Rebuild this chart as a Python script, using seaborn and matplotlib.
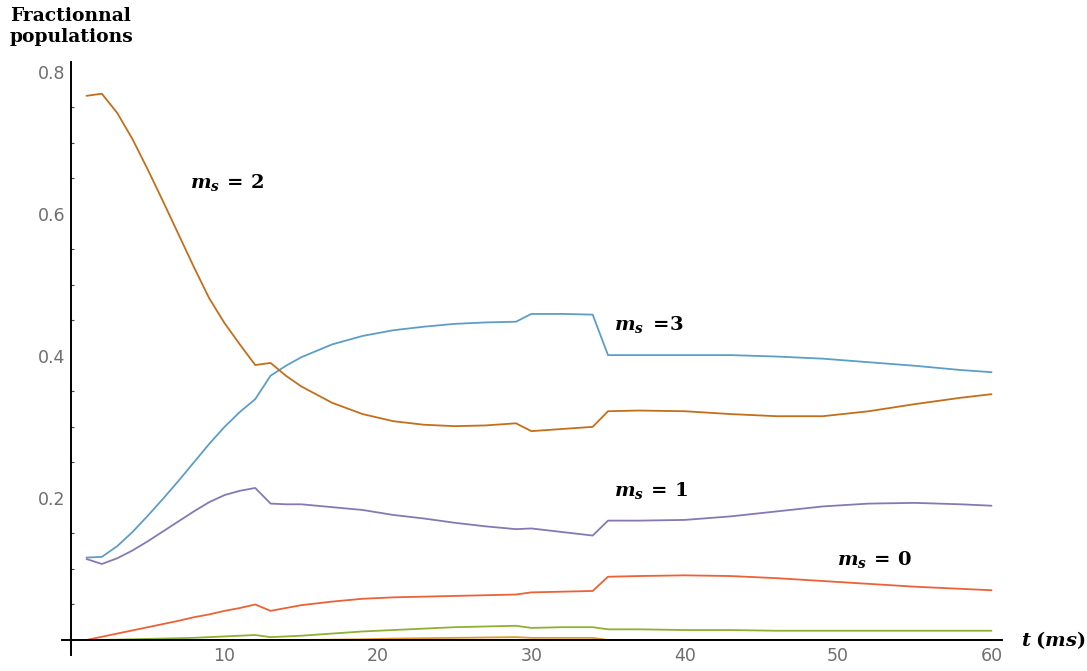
import matplotlib
matplotlib.use("Agg")
import matplotlib.pyplot as plt
import seaborn as sns
import numpy as np
import pandas as pd
from matplotlib.ticker import MultipleLocator

# ---------------- data ----------------
t = [1, 2, 3, 4, 5, 6, 7, 8, 9, 10, 11, 12, 13, 14, 15, 17, 19, 21, 23, 25, 27,
     29, 30, 32, 34, 35, 37, 40, 43, 46, 49, 52, 55, 58, 60]

ms3 = [0.116, 0.117, 0.132, 0.152, 0.175, 0.199, 0.224, 0.250, 0.276, 0.300, 0.321,
       0.339, 0.372, 0.386, 0.398, 0.416, 0.428, 0.436, 0.441, 0.445, 0.447,
       0.448, 0.459, 0.459, 0.458, 0.401, 0.401, 0.401, 0.401, 0.399, 0.396,
       0.391, 0.386, 0.380, 0.377]

ms2 = [0.766, 0.769, 0.742, 0.705, 0.662, 0.617, 0.571, 0.525, 0.481, 0.446, 0.416,
       0.387, 0.390, 0.372, 0.357, 0.334, 0.318, 0.308, 0.303, 0.301, 0.302,
       0.305, 0.294, 0.297, 0.300, 0.322, 0.323, 0.322, 0.318, 0.315, 0.315,
       0.322, 0.332, 0.341, 0.346]

ms1 = [0.114, 0.107, 0.115, 0.126, 0.139, 0.153, 0.167, 0.181, 0.194, 0.204, 0.210,
       0.214, 0.192, 0.191, 0.191, 0.187, 0.183, 0.176, 0.171, 0.165, 0.160,
       0.156, 0.157, 0.152, 0.147, 0.168, 0.168, 0.169, 0.174, 0.181, 0.188,
       0.192, 0.193, 0.191, 0.189]

ms0 = [0.000, 0.0045, 0.009, 0.0135, 0.018, 0.0225, 0.027, 0.032, 0.036, 0.041, 0.045,
       0.050, 0.041, 0.045, 0.049, 0.054, 0.058, 0.060, 0.061, 0.062, 0.063,
       0.064, 0.067, 0.068, 0.069, 0.089, 0.090, 0.091, 0.090, 0.087, 0.083,
       0.079, 0.075, 0.072, 0.070]

msm1 = [0.000, 0.0002, 0.0005, 0.001, 0.0015, 0.002, 0.0025, 0.003, 0.004, 0.005, 0.006,
        0.007, 0.004, 0.005, 0.006, 0.009, 0.012, 0.014, 0.016, 0.018, 0.019,
        0.020, 0.017, 0.018, 0.018, 0.015, 0.015, 0.014, 0.014, 0.013, 0.013,
        0.013, 0.013, 0.013, 0.013]

msm2 = [0.0, 0.0, 0.0, 0.0, 0.0, 0.0, 0.0, 0.0, 0.0, 0.0, 0.0,
        0.0, 0.0, 0.0, 0.0, 0.0005, 0.001, 0.002, 0.0025, 0.003, 0.0035,
        0.004, 0.003, 0.003, 0.003, 0.0, 0.0, 0.0, 0.0, 0.0, 0.0,
        0.0, 0.0, 0.0, 0.0]

series_names = ["m_s=3", "m_s=2", "m_s=1", "m_s=0", "m_s=-1", "m_s=-2"]
series_values = [ms3, ms2, ms1, ms0, msm1, msm2]
colors = ["#5D9EC7", "#C56E1A", "#8778B3", "#EB6235", "#8FB032", "#E19C24"]

x_ticks = [10, 20, 30, 40, 50, 60]
y_ticks = [0.2, 0.4, 0.6, 0.8]
y_tick_labels = ["0.2", "0.4", "0.6", "0.8"]

labels = [r"$m_s\,=\,2$", r"$m_s\;=\!\mathbf{3}$", r"$m_s\,=\,1$", r"$m_s\,=\,0$"]
label_pos = [(7.75, 0.644), (35.4, 0.444), (35.4, 0.210), (49.9, 0.113)]

# ---------------- build table ----------------
rows = []
for name, vals in zip(series_names, series_values):
    for tt, v in zip(t, vals):
        rows.append({"t": tt, "pop": v, "state": name})
df = pd.DataFrame(rows)

sns.set_theme(style="white")
plt.rcParams["font.family"] = ["DejaVu Sans"]
plt.rcParams["mathtext.fontset"] = "custom"
plt.rcParams["mathtext.it"] = "DejaVu Serif:italic:bold"
plt.rcParams["mathtext.rm"] = "DejaVu Serif:bold"
plt.rcParams["mathtext.bf"] = "DejaVu Serif:bold"

fig = plt.figure(figsize=(10.87, 6.71), dpi=100)
ax = fig.add_axes([0.057, 0.024, 0.865, 0.884])

sns.lineplot(data=df, x="t", y="pop", hue="state", hue_order=series_names,
             palette=dict(zip(series_names, colors)), linewidth=1.3,
             legend=False, ax=ax, sort=False, estimator=None)

ax.set_xlim(-0.6, 60.7)
ax.set_ylim(-0.021, 0.814)
ax.spines["left"].set_position(("data", 0))
ax.spines["bottom"].set_position(("data", 0))
ax.spines["right"].set_visible(False)
ax.spines["top"].set_visible(False)
for s in ("left", "bottom"):
    ax.spines[s].set_color("black")
    ax.spines[s].set_linewidth(1.4)
    ax.spines[s].set_zorder(5)

ax.set_xticks(x_ticks)
ax.set_xticklabels([str(v) for v in x_ticks])
ax.set_yticks(y_ticks)
ax.set_yticklabels(y_tick_labels)
ax.yaxis.set_minor_locator(MultipleLocator(0.05))
ax.tick_params(axis="both", which="major", direction="in", length=4, width=1,
               color="black", labelcolor="#6e6e6e", labelsize=12.5)
ax.tick_params(axis="y", which="minor", direction="in", length=2.5, width=0.8,
               color="#444444", left=True)
ax.tick_params(axis="x", pad=5)
ax.tick_params(axis="y", pad=4)
ax.set_xlabel("")
ax.set_ylabel("")

for txt, (lx, ly) in zip(labels, label_pos):
    ax.text(lx, ly, txt, fontsize=14, color="black", ha="left", va="center")

ax.text(61.9, 0.0, r"$t\;(ms)$", fontsize=14, color="black", ha="left",
        va="center", clip_on=False)

fig.text(0.009, 0.99, "Fractionnal\npopulations", family="DejaVu Serif",
         weight="bold", fontsize=13.5, color="black", ha="left", va="top",
         linespacing=1.2)

fig.savefig("out.png", dpi=100, facecolor="white")
